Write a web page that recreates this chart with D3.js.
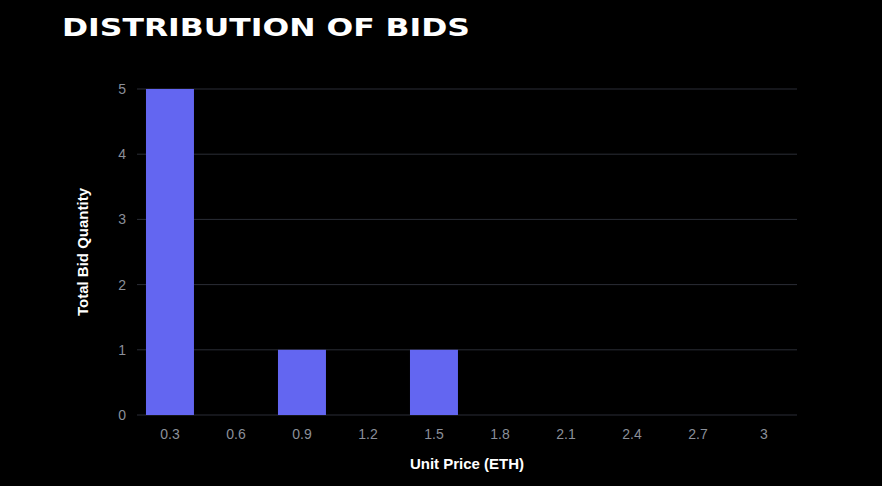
<!DOCTYPE html><html><head><meta charset="utf-8">
<script src="https://cdn.jsdelivr.net/npm/d3@7"></script>
<style>body{margin:0;background:#000}</style></head><body>
<script>
const categories=["0.3","0.6","0.9","1.2","1.5","1.8","2.1","2.4","2.7","3"];
const quantities=[5,0,1,0,1,0,0,0,0,0];
const yTicks=[0,1,2,3,4,5];
const W=882,H=486;
const svg=d3.select("body").append("svg").attr("width",W).attr("height",H).style("background","#000");
const x=d3.scaleBand().domain(categories).range([137,797]);
const y=d3.scaleLinear().domain([0,5]).range([415,89]);
const font="Liberation Sans, Arial, sans-serif";
svg.append("text").attr("x",62).attr("y",36).attr("fill","#fff").attr("font-family","DejaVu Sans").attr("font-weight","bold").attr("font-size",25).attr("textLength",408).attr("lengthAdjust","spacingAndGlyphs").text("DISTRIBUTION OF BIDS");
svg.append("g").selectAll("line").data(yTicks).join("line").attr("x1",137).attr("x2",797).attr("y1",d=>y(d)).attr("y2",d=>y(d)).attr("stroke","#2a2d36").attr("stroke-width",1);
svg.append("g").selectAll("text").data(yTicks).join("text").attr("x",126).attr("y",d=>y(d)+5).attr("text-anchor","end").attr("fill","#8b8f99").attr("font-family",font).attr("font-size",14).text(d=>d);
svg.append("g").selectAll("rect").data(quantities).join("rect").attr("x",(d,i)=>x(categories[i])+x.bandwidth()*0.136).attr("width",x.bandwidth()*0.727).attr("y",d=>y(d)).attr("height",d=>y(0)-y(d)).attr("fill","#6366f1");
svg.append("g").selectAll("text").data(categories).join("text").attr("x",d=>x(d)+x.bandwidth()/2).attr("y",439).attr("text-anchor","middle").attr("fill","#8b8f99").attr("font-family",font).attr("font-size",14).text(d=>d);
svg.append("text").attr("x",467).attr("y",469).attr("text-anchor","middle").attr("fill","#fff").attr("font-family",font).attr("font-weight","bold").attr("font-size",15).text("Unit Price (ETH)");
svg.append("text").attr("transform","translate(88,252) rotate(-90)").attr("text-anchor","middle").attr("fill","#fff").attr("font-family",font).attr("font-weight","bold").attr("font-size",15).text("Total Bid Quantity");
</script></body></html>
